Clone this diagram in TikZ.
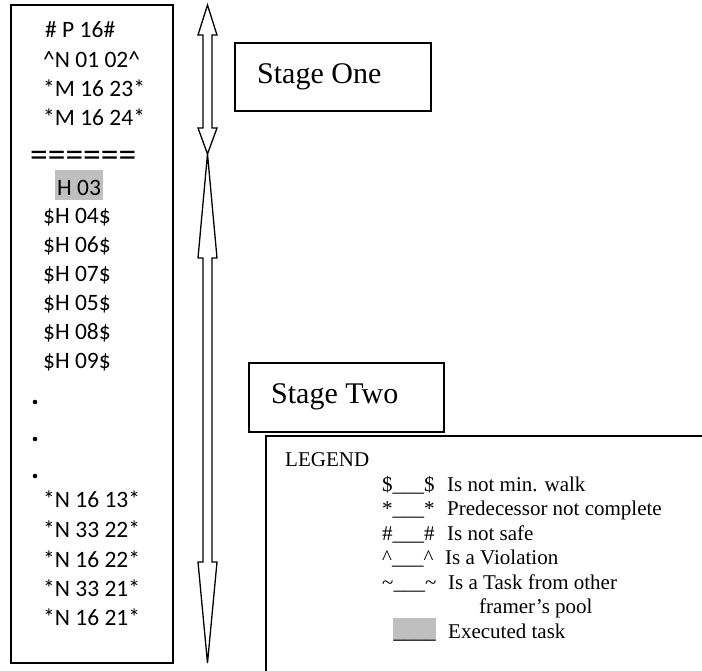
\documentclass[tikz,border=0pt]{standalone}
\usepackage{fontspec}
\setmainfont{Liberation Serif}
\newfontfamily\calib{Carlito}
\begin{document}
\begin{tikzpicture}[x=1pt,y=-1pt,
  listtxt/.style={anchor=base west,inner sep=0pt,font=\calib\fontsize{23.5}{28}\selectfont},
  legtxt/.style={anchor=base west,inner sep=0pt,font=\fontsize{21}{24}\selectfont},
  stagetxt/.style={anchor=base west,inner sep=0pt,font=\fontsize{30}{34}\selectfont},
  frame/.style={draw,line width=1.8pt},
  stagebox/.style={draw,line width=1.5pt},
  bigarrow/.style={draw,line width=1.3pt,line join=miter},
  hilite/.style={fill=black!25}]
\useasboundingbox (0,0) rectangle (702,670);

% task list frame
\draw[frame] (11,5) rectangle (173,663);
\node[listtxt] (p16) at (45,37) {\# P 16\#};
\node[listtxt] (n0102) at (43,67) {\textasciicircum N 01 02\textasciicircum};
\node[listtxt] (m1623) at (43,96) {*M 16 23*};
\node[listtxt] (m1624) at (43,125) {*M 16 24*};
\node[listtxt,font=\calib\fontsize{35.5}{40}\selectfont] (sep) at (30,166) {======};
\node[listtxt,hilite,inner xsep=2pt,text height=25pt,text depth=5pt] (h03) at (55,195) {H 03};
\node[listtxt] (h04) at (43,223) {\$H 04\$};
\node[listtxt] (h06) at (43,252) {\$H 06\$};
\node[listtxt] (h07) at (43,281) {\$H 07\$};
\node[listtxt] (h05) at (43,310) {\$H 05\$};
\node[listtxt] (h08) at (43,339) {\$H 08\$};
\node[listtxt] (h09) at (43,368) {\$H 09\$};
\foreach \y in {402,439,476}
  \fill (35,\y) circle (2.3pt);
\node[listtxt] (n1613) at (43,507) {*N 16 13*};
\node[listtxt] (n3322) at (43,537) {*N 33 22*};
\node[listtxt] (n1622) at (43,567) {*N 16 22*};
\node[listtxt] (n3321) at (43,596) {*N 33 21*};
\node[listtxt] (n1621) at (43,625) {*N 16 21*};

% stage extent arrows
\draw[bigarrow] (207.5,5) -- (217,35) -- (212,35) -- (212,128) -- (217,128)
  -- (207.5,154) -- (198,128) -- (203,128) -- (203,35) -- (198,35) -- cycle;
\draw[bigarrow] (207.5,154) -- (217,258) -- (212,258) -- (212,562) -- (217,562)
  -- (207.5,663) -- (198,562) -- (203,562) -- (203,258) -- (198,258) -- cycle;

% stage labels
\draw[stagebox] (235,43) rectangle (431,111);
\node[stagetxt] (s1) at (257,83) {Stage One};
\draw[stagebox] (249,363) rectangle (444,432);
\node[stagetxt] (s2) at (271,403) {Stage Two};

% legend
\draw[frame] (266,672) -- (266,436) -- (704,436);
\node[legtxt] (leg) at (285,466) {LEGEND};
\node[legtxt] (k1) at (382,491) {\$\_\_\_\$};
\node[legtxt] (d1) at (447,491) {Is not min. walk};
\node[legtxt] (k2) at (382,515.5) {*\_\_\_*};
\node[legtxt] (d2) at (447,515.5) {Predecessor not complete};
\node[legtxt] (k3) at (382,540) {\#\_\_\_\#};
\node[legtxt] (d3) at (447,540) {Is not safe};
\node[legtxt] (k4) at (382,564.5) {\textasciicircum\_\_\_\textasciicircum};
\node[legtxt] (d4) at (445,564.5) {Is a Violation};
\node[legtxt] (k5) at (382,589) {\textasciitilde\_\_\_\textasciitilde};
\node[legtxt] (d5) at (448,589) {Is a Task from other};
\node[legtxt] (d5b) at (479,613.5) {framer’s pool};
\node[legtxt,hilite,inner xsep=0.5pt,text height=20pt,text depth=3pt] (k6) at (393,638) {\_\_\_\_};
\node[legtxt] (d6) at (448,638) {Executed task};
\end{tikzpicture}
\end{document}
